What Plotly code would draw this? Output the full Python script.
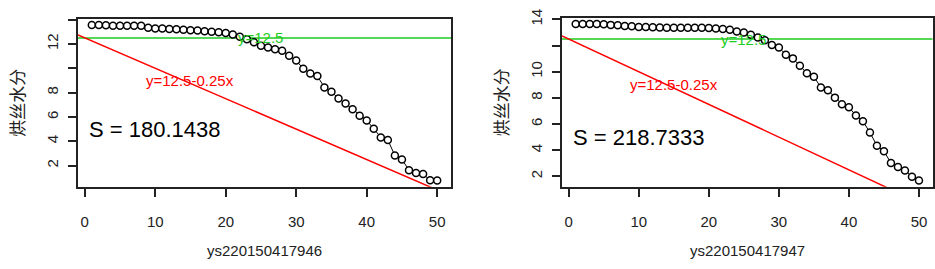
import plotly.graph_objects as go

x_idx = list(range(1, 51))

moisture_946 = [13.57, 13.57, 13.55, 13.50, 13.49, 13.49, 13.50, 13.49, 13.33, 13.28,
                13.27, 13.23, 13.22, 13.17, 13.12, 13.11, 13.04, 13.01, 12.96, 12.91,
                12.78, 12.59, 12.40, 12.15, 11.86, 11.71, 11.57, 11.44, 11.04, 10.64,
                9.97, 9.57, 9.36, 8.43, 8.08, 7.52, 7.10, 6.64, 6.11, 5.71,
                5.04, 4.32, 4.11, 2.83, 2.51, 1.63, 1.39, 1.31, 0.80, 0.77]

moisture_947 = [13.65, 13.65, 13.65, 13.65, 13.63, 13.58, 13.55, 13.50, 13.48, 13.42,
                13.42, 13.40, 13.38, 13.36, 13.36, 13.36, 13.36, 13.36, 13.36, 13.34,
                13.30, 13.27, 13.20, 13.08, 13.00, 12.82, 12.62, 12.40, 12.05, 11.85,
                11.30, 11.02, 10.45, 9.88, 9.62, 8.80, 8.58, 8.02, 7.52, 7.28,
                6.65, 6.22, 5.35, 4.35, 3.93, 3.02, 2.72, 2.45, 1.98, 1.68]

panel_names = ["ys220150417946", "ys220150417947"]
s_values = ["S = 180.1438", "S = 218.7333"]
y_title = "烘丝水分"
h_level = 12.5
line_intercept = 12.5
line_slope = -0.25
x_tickvals = [0, 10, 20, 30, 40, 50]
y_tickvals = [2, 4, 6, 8, 10, 12, 14]
y_ticktext_946 = ["2", "4", "6", "8", "", "12", ""]
y_ticktext_947 = ["2", "4", "6", "8", "10", "", "14"]

series = [moisture_946, moisture_947]
ticktexts = [y_ticktext_946, y_ticktext_947]

xdomains = [[78 / 935, 451 / 935], [562 / 935, 932.7 / 935]]
ydomains = [[85 / 269, 259 / 269], [85 / 269, 260 / 269]]

FONT = "Liberation Sans, Arial, sans-serif"
GREEN = "#1ecb1e"
RED = "#ff0000"

fig = go.Figure()

xmin, xmax = min(x_idx), max(x_idx)
xpad = 0.04 * (xmax - xmin)
xr = [xmin - xpad, xmax + xpad]

for k, ys in enumerate(series):
    ax = "" if k == 0 else str(k + 1)
    xa, ya = "x" + ax, "y" + ax
    ymin, ymax = min(ys), max(ys)
    ypad = 0.04 * (ymax - ymin)
    yr = [ymin - ypad, ymax + ypad]

    # horizontal reference line
    fig.add_trace(go.Scatter(x=xr, y=[h_level, h_level], mode="lines",
                             line=dict(color=GREEN, width=1.5),
                             xaxis=xa, yaxis=ya, showlegend=False, hoverinfo="skip"))
    # sloped reference line
    fig.add_trace(go.Scatter(x=xr, y=[line_intercept + line_slope * v for v in xr],
                             mode="lines", line=dict(color=RED, width=1.5),
                             xaxis=xa, yaxis=ya, showlegend=False, hoverinfo="skip"))
    # data
    fig.add_trace(go.Scatter(x=x_idx, y=ys, mode="lines+markers",
                             line=dict(color="black", width=1),
                             marker=dict(symbol="circle", size=7, color="white",
                                         line=dict(color="black", width=1.5)),
                             xaxis=xa, yaxis=ya, showlegend=False, cliponaxis=False))

    fig.add_annotation(x=25, y=12.5, xref=xa, yref=ya, text="y=12.5", showarrow=False,
                       font=dict(family=FONT, size=15, color=GREEN))
    fig.add_annotation(x=15, y=9, xref=xa, yref=ya, text="y=12.5-0.25x", showarrow=False,
                       font=dict(family=FONT, size=15, color=RED))
    fig.add_annotation(x=10, y=5, xref=xa, yref=ya, text=s_values[k], showarrow=False,
                       font=dict(family=FONT, size=22, color="black"))

    axis_common = dict(showline=True, linecolor="#222222", linewidth=1.5, mirror=True,
                       ticks="outside", ticklen=8, tickcolor="#222222", tickwidth=1.5,
                       showgrid=False, zeroline=False,
                       tickfont=dict(family=FONT, size=15, color="#222222"))
    fig.layout["xaxis" + ax] = dict(domain=xdomains[k], range=xr, anchor=ya,
                                    tickvals=x_tickvals, ticklabelstandoff=12,
                                    **axis_common)
    fig.layout["yaxis" + ax] = dict(domain=ydomains[k], range=yr, anchor=xa,
                                    tickvals=y_tickvals, ticktext=ticktexts[k],
                                    tickangle=-90, ticklabelstandoff=4,
                                    **axis_common)

    # axis titles
    fig.add_annotation(x=(xdomains[k][0] + xdomains[k][1]) / 2, y=(269 - 250) / 269,
                       xref="paper", yref="paper", text=panel_names[k], showarrow=False,
                       font=dict(family=FONT, size=15, color="#222222"),
                       xanchor="center", yanchor="middle")
    fig.add_annotation(x=[17, 500][k] / 935, y=(ydomains[k][0] + ydomains[k][1]) / 2,
                       xref="paper", yref="paper", text=y_title, showarrow=False,
                       textangle=-90,
                       font=dict(family="Noto Sans CJK SC", size=17, color="#222222"),
                       xanchor="center", yanchor="middle")

fig.update_layout(width=935, height=269, autosize=False,
                  margin=dict(l=0, r=0, t=0, b=0),
                  paper_bgcolor="white", plot_bgcolor="white")

fig.write_html("out.html", config={"displayModeBar": False},
               post_script="document.body.style.margin='0px';document.body.style.padding='0px';")
